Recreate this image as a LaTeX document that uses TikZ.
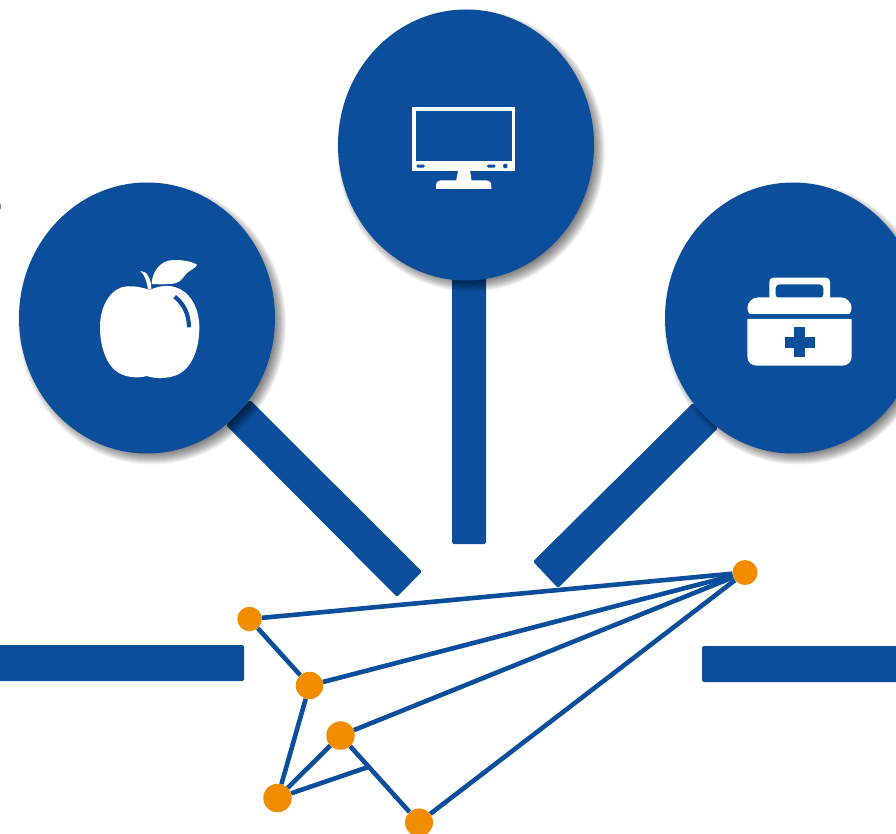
\documentclass[tikz,border=0pt]{standalone}
\usetikzlibrary{calc}
\definecolor{brandblue}{HTML}{0B4F9C}
\definecolor{dotorange}{HTML}{F28C00}
\tikzset{
  bar/.style={fill=brandblue,rounded corners=1.5pt},
  disc/.style={fill=brandblue},
  dot/.style={circle,fill=dotorange,inner sep=0pt,draw=none},
  link/.style={draw=brandblue,line width=4.6pt},
  icon/.style={fill=white},
  cut/.style={fill=brandblue}
}
\newcommand{\softshadow}[2]{%
  \foreach \i in {0,...,15}{
    \fill[black,opacity=0.05] ({#1+5},{#2+5.5}) ellipse ({134-\i*1} and {141-\i*1});
  }%
}
\begin{document}
\begin{tikzpicture}[x=1pt,y=-1pt]
\useasboundingbox (0,0) rectangle (896,834);
\clip (0,0) rectangle (896,834);
% stray mark on the left edge
\fill[black!45] (0,204) rectangle (1,209);
% horizontal bars
\fill[bar] (-6,645) rectangle (244,681);
\fill[bar] (702,646) rectangle (902,682);
% stems
\fill[bar] (452,270) rectangle (486,544);
\fill[bar] (250,400) -- (422,571.5) -- (397,597) -- (226,425) -- cycle;
\fill[bar] (693,403) -- (718,428) -- (558,588) -- (533,561.5) -- cycle;
% discs
\softshadow{147}{318}
\softshadow{466}{145}
\softshadow{793}{318}
\fill[disc] (147,318) ellipse (128 and 135.5);
\fill[disc] (466,145) ellipse (128 and 135.5);
\fill[disc] (793,318) ellipse (128 and 135.5);
% apple
\begin{scope}[shift={(80,240)},x=0.3333pt,y=-0.3333pt]
  \fill[icon] (210,150) .. controls (180,140) and (150,135) .. (125,142)
    .. controls (85,155) and (60,205) .. (60,262)
    .. controls (60,320) and (80,385) .. (125,403)
    .. controls (150,414) and (180,414) .. (200,408)
    .. controls (225,417) and (265,417) .. (295,403)
    .. controls (340,380) and (358,320) .. (358,262)
    .. controls (358,215) and (340,165) .. (295,145)
    .. controls (265,132) and (235,138) .. (210,150) -- cycle;
  \fill[icon] (181,93) .. controls (200,92) and (214,115) .. (214,148)
    -- (204,148) .. controls (200,125) and (195,105) .. (181,93) -- cycle;
  \fill[icon] (215,132) .. controls (216,100) and (235,70) .. (265,62)
    .. controls (295,57) and (330,62) .. (351,74)
    .. controls (350,82) and (335,88) .. (322,98)
    .. controls (310,110) and (305,125) .. (285,130)
    .. controls (265,134) and (235,133) .. (215,132) -- cycle;
  \draw[brandblue,line width=4.2pt] (284,170) .. controls (310,190) and (327,222) .. (327,262);
\end{scope}
% monitor
\begin{scope}[shift={(390,90)},x=0.3333pt,y=-0.3333pt]
  \fill[icon] (67,50) rectangle (376,243);
  \fill[cut] (78,62) rectangle (365,213);
  \fill[cut,rounded corners=1.5pt] (79,224) rectangle (105,233);
  \fill[cut,rounded corners=1.5pt] (290,224) rectangle (317,233);
  \fill[cut] (346,228) circle (7);
  \fill[icon] (205,240) -- (240,240) -- (245,275) -- (198,275) -- cycle;
  \fill[icon] (138,297) -- (138,287) .. controls (138,277) and (144,271) .. (152,271)
    -- (290,271) .. controls (298,271) and (304,277) .. (304,287) -- (304,297) -- cycle;
\end{scope}
% medical case
\begin{scope}[shift={(730,265)},x=0.3333pt,y=-0.3333pt]
  \fill[icon,rounded corners=4pt] (118,110) -- (118,38) -- (300,38) -- (300,110) -- cycle;
  \fill[cut,rounded corners=4pt] (137,100) -- (137,58) -- (280,58) -- (280,100) -- cycle;
  \fill[icon,rounded corners=11pt] (52,160) -- (52,97) -- (365,97) -- (365,160) -- cycle;
  \fill[cut] (45,148) rectangle (372,162);
  \fill[icon] (52,162) -- (365,162) -- (365,275)
    .. controls (365,292) and (352,302) .. (336,302)
    -- (81,302) .. controls (65,302) and (52,292) .. (52,275) -- cycle;
  \fill[cut] (165,216) rectangle (254,248);
  \fill[cut] (193,187) rectangle (225,276);
\end{scope}
% network
\node[dot,minimum size=24.5pt] (a) at (249.5,619) {};
\node[dot,minimum size=27.5pt] (b) at (309.5,685.5) {};
\node[dot,minimum size=28.5pt] (c) at (340.5,735.5) {};
\node[dot,minimum size=28.5pt] (d) at (277.5,798) {};
\node[dot,minimum size=28pt] (e) at (419,822.5) {};
\node[dot,minimum size=25pt] (f) at (745,572.5) {};
\coordinate (j) at ($(c)!0.36!(e)$);
\draw[link] (a) -- (f);
\draw[link] (b) -- (f);
\draw[link] (c) -- (f);
\draw[link] (e) -- (f);
\draw[link] (a) -- (b);
\draw[link] (b) -- (d);
\draw[link] (c) -- (d);
\draw[link] (c) -- (e);
\draw[link] (d) -- (j);
\end{tikzpicture}
\end{document}
